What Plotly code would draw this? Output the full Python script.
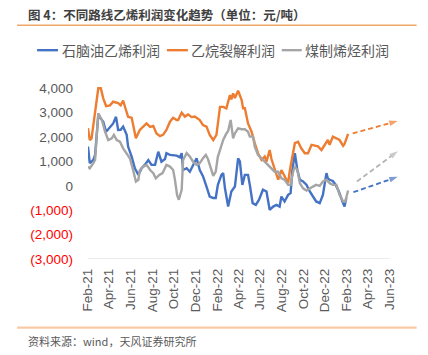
import plotly.graph_objects as go

# ---------------- data (元/吨) ----------------
naphtha_dates = ["2021-02-01","2021-02-06","2021-02-16","2021-02-21","2021-03-02","2021-03-07","2021-03-16","2021-03-24",
    "2021-04-04","2021-04-13","2021-04-21","2021-04-27","2021-05-04","2021-05-11","2021-05-21","2021-05-25","2021-06-04",
    "2021-06-13","2021-06-23","2021-07-02","2021-07-11","2021-07-21","2021-07-30","2021-08-09","2021-08-18","2021-08-27",
    "2021-09-06","2021-09-10","2021-09-20","2021-09-29","2021-10-09","2021-10-18","2021-10-23","2021-10-27","2021-11-06",
    "2021-11-15","2021-11-24","2021-12-04","2021-12-13","2021-12-22","2022-01-01","2022-01-10","2022-01-20","2022-01-27",
    "2022-02-02","2022-02-12","2022-02-17","2022-02-22","2022-03-03","2022-03-12","2022-03-22","2022-03-31","2022-04-05",
    "2022-04-12","2022-04-19","2022-04-28","2022-05-03","2022-05-11","2022-05-20","2022-05-29","2022-06-09","2022-06-19",
    "2022-06-28","2022-07-08","2022-07-17","2022-07-26","2022-07-31","2022-08-09","2022-08-19","2022-08-26","2022-08-31",
    "2022-09-07","2022-09-14","2022-09-21","2022-09-30","2022-10-10","2022-10-19","2022-10-28","2022-11-06","2022-11-16",
    "2022-11-25","2022-12-05","2022-12-09","2022-12-14","2022-12-23","2022-12-31","2023-01-09","2023-01-19","2023-01-25",
    "2023-01-30"]
naphtha_profit = [1610,930,1060,1270,2900,2800,2630,2220,
    2430,2560,2830,2290,2300,2430,2090,1610,1200,
    720,450,720,860,1060,860,860,1400,990,
    1100,1340,1270,1270,1240,1170,1340,650,720,
    580,860,1130,650,400,-30,-440,-500,-500,
    40,450,520,-100,-850,-230,-30,1130,1000,
    40,450,450,40,-710,-780,-570,-160,-230,
    -980,-850,-780,-850,-440,-640,-370,-300,650,
    1340,650,250,180,40,-230,-440,-640,-710,
    -370,520,300,250,200,40,-230,-640,-850,
    -500]

ethane_dates = ["2021-02-01","2021-02-06","2021-02-11","2021-02-21","2021-03-02","2021-03-09","2021-03-16","2021-03-24",
    "2021-04-04","2021-04-13","2021-04-27","2021-05-04","2021-05-11","2021-05-19","2021-05-25","2021-06-04","2021-06-16",
    "2021-06-27","2021-07-07","2021-07-16","2021-07-26","2021-08-04","2021-08-13","2021-08-23","2021-09-01","2021-09-10",
    "2021-09-20","2021-09-29","2021-10-09","2021-10-13","2021-10-23","2021-11-01","2021-11-10","2021-11-20","2021-11-29",
    "2021-12-13","2021-12-22","2022-01-01","2022-01-10","2022-01-20","2022-01-29","2022-02-08","2022-02-17","2022-02-26",
    "2022-03-08","2022-03-12","2022-03-17","2022-03-22","2022-03-31","2022-04-10","2022-04-14","2022-04-19","2022-04-28",
    "2022-05-08","2022-05-17","2022-05-26","2022-06-05","2022-06-14","2022-06-19","2022-06-28","2022-07-03","2022-07-12",
    "2022-07-22","2022-07-31","2022-08-09","2022-08-19","2022-08-24","2022-09-02","2022-09-07","2022-09-16","2022-09-25",
    "2022-10-05","2022-10-14","2022-10-24","2022-11-02","2022-11-11","2022-11-21","2022-11-30","2022-12-09","2022-12-14",
    "2022-12-23","2023-01-02","2023-01-11","2023-01-21","2023-01-25","2023-02-04"]
ethane_profit = [2360,1880,1950,2970,4000,4000,3590,3270,
    3300,3450,3390,3300,3500,3110,2830,2790,1950,
    2290,2430,2560,2420,2460,2150,2040,2100,2290,
    2630,2790,2700,2700,3000,2840,2930,2820,2840,
    2700,2490,2430,2090,1880,2090,3240,3240,3180,
    3720,3550,3790,3600,3900,3520,3180,3180,2560,
    2220,1750,1340,1060,1200,990,1470,1100,720,
    250,650,380,110,650,1470,1750,1810,1540,
    1340,1340,1680,1640,1620,1470,1680,1880,1680,
    2020,1950,1880,1640,1720,2130]

coal_dates = ["2021-02-01","2021-02-06","2021-02-16","2021-02-21","2021-03-02","2021-03-12","2021-03-21","2021-03-30",
    "2021-04-09","2021-04-15","2021-04-23","2021-05-02","2021-05-11","2021-05-21","2021-05-30","2021-06-08","2021-06-16",
    "2021-06-23","2021-06-27","2021-07-07","2021-07-16","2021-07-26","2021-08-04","2021-08-11","2021-08-21","2021-08-30",
    "2021-09-10","2021-09-20","2021-09-29","2021-10-04","2021-10-10","2021-10-15","2021-10-23","2021-10-27","2021-11-06",
    "2021-11-15","2021-11-24","2021-12-04","2021-12-13","2021-12-22","2021-12-30","2022-01-05","2022-01-15","2022-01-20",
    "2022-01-27","2022-02-02","2022-02-08","2022-02-17","2022-02-26","2022-03-03","2022-03-10","2022-03-17","2022-03-22",
    "2022-03-31","2022-04-10","2022-04-19","2022-04-28","2022-05-03","2022-05-12","2022-05-17","2022-05-26","2022-06-05",
    "2022-06-14","2022-06-23","2022-07-03","2022-07-12","2022-07-22","2022-07-31","2022-08-09","2022-08-19","2022-08-26",
    "2022-09-02","2022-09-07","2022-09-14","2022-09-21","2022-09-30","2022-10-10","2022-10-19","2022-10-28","2022-11-06",
    "2022-11-16","2022-11-25","2022-12-05","2022-12-14","2022-12-23","2023-01-02","2023-01-11","2023-01-21","2023-01-27",
    "2023-02-04"]
coal_profit = [790,720,930,1060,2970,2700,2220,1880,
    1950,2090,1880,1810,1540,1340,1130,650,180,
    250,650,790,860,650,520,310,450,520,
    860,790,650,250,-370,-570,-160,1060,1340,
    1200,990,860,930,1130,1270,1100,580,410,
    580,1200,1470,1880,2150,2250,2700,1950,2150,
    2360,2320,2320,2220,2020,2020,1610,1270,1130,
    990,860,720,580,580,310,250,40,40,
    580,790,650,110,-100,-190,-100,-30,40,
    0,180,250,110,40,40,-370,-640,-640,
    -190]

# projected trend arrows (start, end)
proj_dates = ["2023-02-17", "2023-06-24"]
ethane_proj = [2150, 2660]
coal_proj_dates = ["2023-03-01", "2023-06-24"]
coal_proj = [180, 1420]
naphtha_proj_dates = ["2023-02-19", "2023-06-24"]
naphtha_proj = [-260, 370]

series_names = ["石脑油乙烯利润", "乙烷裂解利润", "煤制烯烃利润"]
colors = ["#4472C4", "#ED7D31", "#A5A5A5"]

y_ticks = [4000, 3000, 2000, 1000, 0, -1000, -2000, -3000]
x_ticks = ["2021-02-01","2021-04-01","2021-06-01","2021-08-01","2021-10-01","2021-12-01","2022-02-01",
           "2022-04-01","2022-06-01","2022-08-01","2022-10-01","2022-12-01","2023-02-01","2023-04-01","2023-06-01"]
x_tick_labels = ["Feb-21","Apr-21","Jun-21","Aug-21","Oct-21","Dec-21","Feb-22","Apr-22","Jun-22","Aug-22",
                 "Oct-22","Dec-22","Feb-23","Apr-23","Jun-23"]

title_text = "<b>图 4：不同路线乙烯利润变化趋势（单位：元/吨）</b>"
source_text = "资料来源：wind，天风证券研究所"

# ---------------- layout geometry ----------------
W, H = 428, 355
L, R, T, B = 88, 20.6, 80.9, 95.7
PW, PH = W - L - R, H - T - B


def pxx(x):
    return (x - L) / PW


def pxy(y):
    return (H - B - y) / PH


def ytxt(v):
    if v < 0:
        return '<span style="color:#FF0000">(' + f"{-v:,}" + ')</span>'
    return f"{v:,}"


fig = go.Figure()
for d, v, c in [(naphtha_dates, naphtha_profit, colors[0]),
                (ethane_dates, ethane_profit, colors[1]),
                (coal_dates, coal_profit, colors[2])]:
    fig.add_trace(go.Scatter(x=d, y=v, mode="lines", line=dict(color=c, width=2.4), showlegend=False,
                             hoverinfo="skip"))

for d, v, c in [(proj_dates, ethane_proj, colors[1]),
                (coal_proj_dates, coal_proj, "#B4B4B4"),
                (naphtha_proj_dates, naphtha_proj, colors[0])]:
    fig.add_trace(go.Scatter(x=d, y=v, mode="lines+markers",
                             line=dict(color=c, width=1.8, dash="5px,3px"),
                             marker=dict(symbol="arrow", size=[0, 9], angleref="previous", color=c,
                                         line=dict(width=0)),
                             showlegend=False, hoverinfo="skip"))

shapes = [
    # bottom axis line
    dict(type="line", xref="x", yref="y", x0=x_ticks[0], x1=x_ticks[-1], y0=-3000, y1=-3000,
         line=dict(color="#D9D9D9", width=1)),
    # header rule
    dict(type="line", xref="paper", yref="paper", x0=pxx(17), x1=pxx(417), y0=pxy(25), y1=pxy(25),
         line=dict(color="#F0A868", width=1.3)),
    # footer rule
    dict(type="line", xref="paper", yref="paper", x0=pxx(17), x1=pxx(417), y0=pxy(328), y1=pxy(328),
         line=dict(color="#F8C9A4", width=2.2)),
]

annotations = [
    dict(text=title_text, xref="paper", yref="paper", x=pxx(26), y=pxy(14), xanchor="left", yanchor="middle",
         showarrow=False, font=dict(family="Noto Sans CJK SC", size=12.5, color="#404040")),
    dict(text=source_text, xref="paper", yref="paper", x=pxx(26), y=pxy(341), xanchor="left", yanchor="middle",
         showarrow=False, font=dict(family="Noto Sans CJK SC", size=11, color="#595959")),
]

# manual legend
leg_y = 50
leg_items = [(37, 58, 60), (167, 188, 189), (282, 302, 303)]
for (x0, x1, xt), name, c in zip(leg_items, series_names, colors):
    shapes.append(dict(type="line", xref="paper", yref="paper", x0=pxx(x0), x1=pxx(x1),
                       y0=pxy(leg_y), y1=pxy(leg_y), line=dict(color=c, width=2.4)))
    annotations.append(dict(text=name, xref="paper", yref="paper", x=pxx(xt), y=pxy(leg_y),
                            xanchor="left", yanchor="middle", showarrow=False,
                            font=dict(family="Noto Sans CJK SC", size=14, color="#595959")))

fig.update_layout(
    width=W, height=H,
    margin=dict(l=L, r=R, t=T, b=B, pad=0),
    paper_bgcolor="white", plot_bgcolor="white",
    showlegend=False, hovermode=False,
    shapes=shapes, annotations=annotations,
    xaxis=dict(type="date", range=["2021-02-01", "2023-07-20"], tickvals=x_ticks, ticktext=x_tick_labels,
               tickangle=-90, showgrid=False, zeroline=False, showline=False, ticks="",
               tickfont=dict(family="Liberation Sans", size=13.5, color="#595959"),
               ticklabelstandoff=6),
    yaxis=dict(range=[-3000, 4300], tickvals=y_ticks, ticktext=[ytxt(v) for v in y_ticks],
               showgrid=False, zeroline=False, showline=False, ticks="",
               tickfont=dict(family="Liberation Sans", size=13.5, color="#595959"),
               ticklabelstandoff=14),
)

fig.write_html("out.html", config={"staticPlot": True, "displayModeBar": False},
               post_script="document.body.style.margin='0';document.body.style.padding='0';"
                           "document.body.style.overflow='hidden';")
